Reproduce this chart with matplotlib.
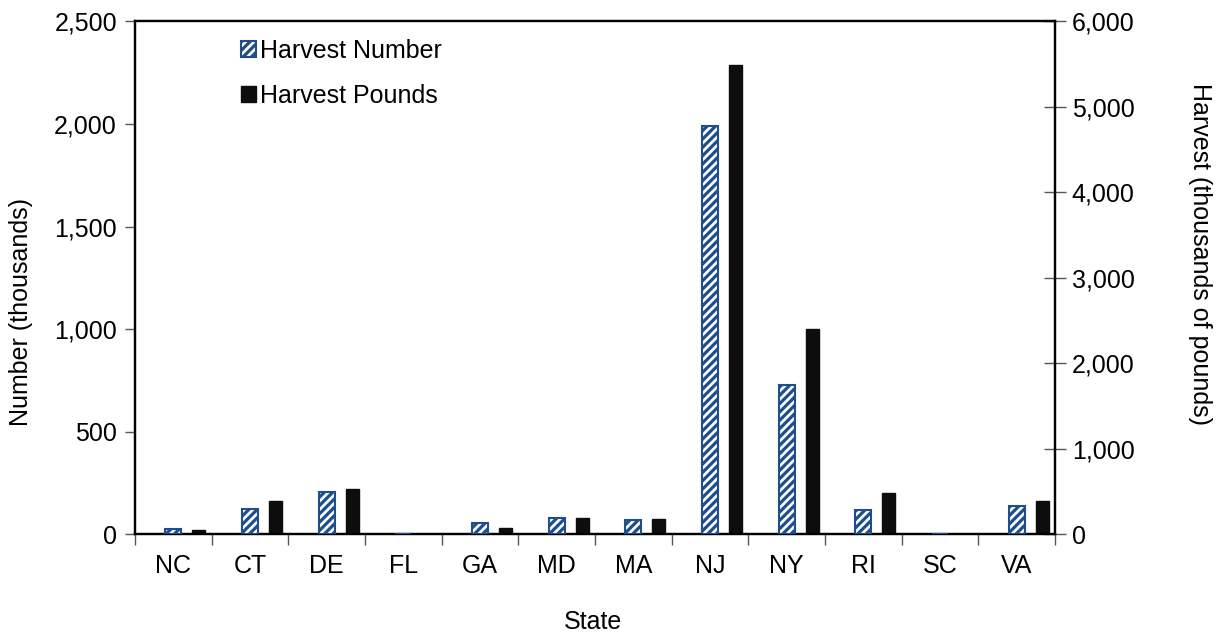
import matplotlib
matplotlib.use("Agg")
import matplotlib.pyplot as plt
import numpy as np
from matplotlib.ticker import FuncFormatter, FixedLocator
from matplotlib.patches import Patch

states = ["NC", "CT", "DE", "FL", "GA", "MD", "MA", "NJ", "NY", "RI", "SC", "VA"]
harvest_number = [25, 125, 205, 2, 55, 78, 68, 1990, 730, 118, 3, 140]
harvest_pounds = [45, 390, 530, 3, 75, 190, 180, 5490, 2400, 480, 4, 385]

plt.rcParams['font.family'] = ['Liberation Sans', 'DejaVu Sans']
plt.rcParams['hatch.linewidth'] = 2.3
plt.rcParams['hatch.color'] = '#1F4E8C'

blue = '#1F4E8C'
fs = 18
W, H = 1220, 636

fig = plt.figure(figsize=(12.2, 6.36), dpi=100)
ax = fig.add_axes([0.1107, 0.1599, 0.8648 - 0.1107, 0.9665 - 0.1599])
ax2 = ax.twinx()

x = np.arange(len(states))
ax.bar(x, harvest_number, width=0.21, color='white', edgecolor=blue,
       hatch='////', linewidth=1.5, zorder=3)
ax2.bar(x + 0.33, harvest_pounds, width=0.17, color='#0d0d0d',
        edgecolor='#0d0d0d', linewidth=1.0, zorder=3)

ax.set_xlim(-0.5, len(states) - 0.5)
ax.set_ylim(0, 2500)
ax2.set_ylim(0, 6000)

ax.set_yticks(np.arange(0, 2501, 500))
ax2.set_yticks(np.arange(0, 6001, 1000))
fmt = FuncFormatter(lambda v, p: f"{int(v):,}")
ax.yaxis.set_major_formatter(fmt)
ax2.yaxis.set_major_formatter(fmt)

ax.set_xticks(x)
ax.set_xticklabels(states)
ax.xaxis.set_minor_locator(FixedLocator(np.arange(-0.5, len(states) + 0.5, 1.0)))
ax.tick_params(axis='x', which='major', length=0, labelsize=fs, pad=14)
ax.tick_params(axis='x', which='minor', length=8, width=1.0, direction='out', color='#555555')
ax.tick_params(axis='y', which='major', length=7, width=1.0, direction='out',
               labelsize=fs, pad=6, color='#555555')
ax2.tick_params(axis='y', which='major', length=16, width=1.0, direction='inout',
                labelsize=fs, pad=4, color='#555555')

for a in (ax, ax2):
    for s in a.spines.values():
        s.set_linewidth(1.6)
        s.set_color('black')

fig.text(593 / W, 1 - 622 / H, "State", fontsize=fs, ha='center', va='center')
fig.text(21 / W, 1 - 312 / H, "Number (thousands)", fontsize=fs, rotation=90,
         ha='center', va='center')
fig.text(1200 / W, 1 - 254 / H, "Harvest (thousands of pounds)", fontsize=fs,
         rotation=270, ha='center', va='center')

handles = [Patch(facecolor='white', edgecolor=blue, hatch='////', linewidth=1.5),
           Patch(facecolor='#0d0d0d', edgecolor='#0d0d0d')]
leg = ax.legend(handles, ["Harvest Number", "Harvest Pounds"], loc='upper left',
                bbox_to_anchor=(0.096, 1.0), frameon=False, fontsize=fs,
                handlelength=0.6, handleheight=0.6, handletextpad=0.15,
                labelspacing=0.85, borderaxespad=0.3)

ax.set_zorder(ax2.get_zorder() + 1)
ax.patch.set_visible(False)

fig.savefig("out.png", dpi=100)
